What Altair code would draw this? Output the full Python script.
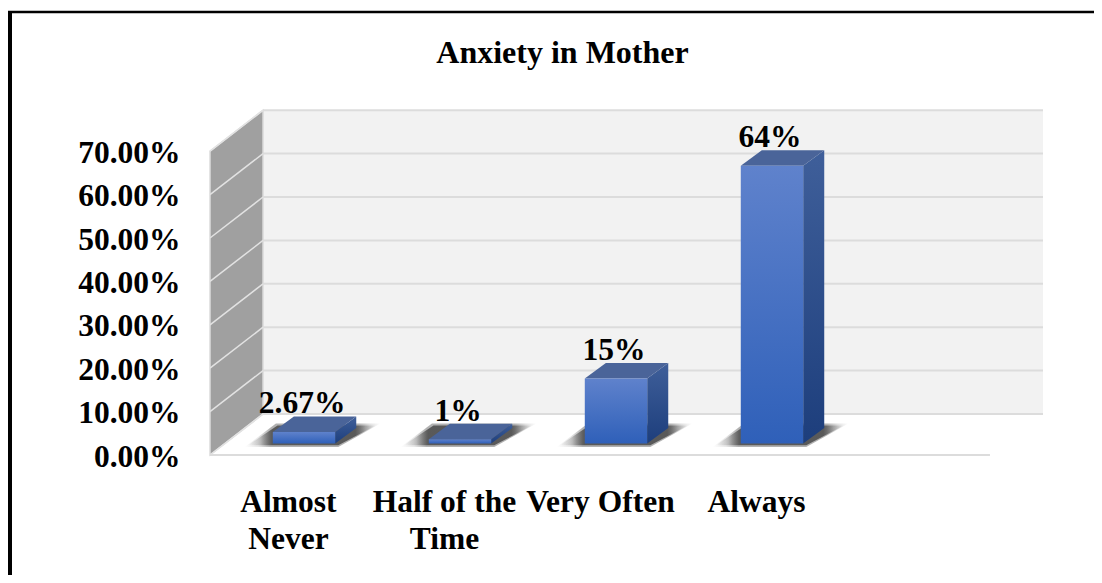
import json
import altair as alt
import pandas as pd

title = "Anxiety in Mother"
categories = ["Almost\nNever", "Half of the\nTime", "Very Often", "Always"]
values = [0.0267, 0.01, 0.15, 0.64]
value_labels = ["2.67%", "1%", "15%", "64%"]
y_ticks = [0.0, 0.1, 0.2, 0.3, 0.4, 0.5, 0.6, 0.7]

FONT = "Liberation Serif"
N_SLOTS = 5
WALL_DX, WALL_DY = 0.34, 0.0945
BAR_W, BAR_OFF_X, BAR_OFF_Y = 0.40, 0.1026, 0.0265
BAR_DX, BAR_DY = 0.135, 0.0357

x_s = alt.Scale(domain=[0, N_SLOTS + WALL_DX], nice=False, zero=False)
y_s = alt.Scale(domain=[0, 0.795], nice=False)
cat_expr = "split(" + json.dumps(categories) + "[floor(datum.value)], '\\n')"
x_axis = alt.Axis(
    values=[i + 0.5 for i in range(len(categories))],
    labelExpr=cat_expr, title=None, domain=False, ticks=False, grid=False,
    labelFont=FONT, labelFontWeight="bold", labelFontSize=31.5, labelColor="black",
    labelPadding=31, labelLineHeight=37, labelOverlap=False, labelBaseline="top",
    labelAlign="center", labelFlush=False,
)
y_axis = alt.Axis(
    values=y_ticks, format=".2%", title=None, domain=False, ticks=False, grid=False,
    labelFont=FONT, labelFontWeight="bold", labelFontSize=31.5, labelColor="black",
    labelPadding=30, labelOverlap=False, labelFlush=False, labelOffset=2,
)
X = lambda f: alt.X(f, type="quantitative", scale=x_s, axis=x_axis)
Y = lambda f: alt.Y(f, type="quantitative", scale=y_s, axis=y_axis)
X2 = lambda f: alt.X2(f)
Y2 = lambda f: alt.Y2(f)

bars = pd.DataFrame({"i": range(len(values)), "v": values, "label": value_labels})
bars["l"] = bars.i + 0.5 - BAR_W / 2 + BAR_OFF_X
bars["r"] = bars.l + BAR_W
bars["b"] = BAR_OFF_Y
bars["t"] = bars.v + BAR_OFF_Y

grid = pd.DataFrame({"v": y_ticks})
grid["back"] = grid.v + WALL_DY
grid["x0"] = WALL_DX
grid["x1"] = N_SLOTS + WALL_DX

back_panel = pd.DataFrame(
    {"x0": [WALL_DX], "x1": [N_SLOTS + WALL_DX], "yb": [WALL_DY], "yt": [y_ticks[-1] + WALL_DY]}
)

wall_lines = pd.DataFrame(
    [{"v": v, "x": 0, "y": v} for v in y_ticks]
    + [{"v": v, "x": WALL_DX, "y": v + WALL_DY} for v in y_ticks]
)
wall = pd.DataFrame(
    [
        {"x": 0, "y": 0, "y2": y_ticks[-1]},
        {"x": WALL_DX, "y": WALL_DY, "y2": y_ticks[-1] + WALL_DY},
    ]
)

side = pd.concat(
    [
        pd.DataFrame({"i": bars.i, "x": bars.r, "y": bars.b, "y2": bars.t}),
        pd.DataFrame({"i": bars.i, "x": bars.r + BAR_DX, "y": bars.b + BAR_DY, "y2": bars.t + BAR_DY}),
    ]
)


def slanted(i, xa, xb, xc, xd, ya, yb):
    """Parallelogram-like face: flat edge xa..xb at ya, flat edge xc..xd at yb."""
    return pd.DataFrame(
        {
            "i": i,
            "x": [xa, xc, xb, xd],
            "y": [ya, ya, ya, yb],
            "y2": [ya, yb, yb, yb],
        }
    )


top = pd.concat(
    [
        slanted(r.i, r.l, r.r, r.l + BAR_DX, r.r + BAR_DX, r.t, r.t + BAR_DY)
        for r in bars.itertuples()
    ]
)
shadow = pd.concat(
    [
        slanted(r.i, r.l - 0.16, r.r + 0.02, r.l + 0.03, r.r + 0.26, 0.0225, 0.068)
        for r in bars.itertuples()
    ]
)
shadow_soft = pd.concat(
    [
        slanted(r.i, r.l - 0.18, r.r + 0.02, r.l + 0.02, r.r + 0.29, 0.0185, 0.0725)
        for r in bars.itertuples()
    ]
)
labels = bars.assign(lx=bars.i + 0.5 + BAR_OFF_X - 0.012, ly=bars.t + BAR_DY)


def vgrad(c0, c1):
    return alt.LinearGradient(
        gradient="linear", x1=0, x2=0, y1=0, y2=1,
        stops=[alt.GradientStop(color=c0, offset=0), alt.GradientStop(color=c1, offset=1)],
    )


def shadow_grad(alpha):
    ramp = [(0, 0), (0.1, 0.3), (0.19, 1), (0.84, 1), (0.92, 0.4), (1, 0)]
    return alt.LinearGradient(
        gradient="linear", x1=0, x2=1, y1=0, y2=0,
        stops=[
            alt.GradientStop(color=f"rgba(60,60,60,{a * alpha:.3f})", offset=o)
            for o, a in ramp
        ],
    )


back_rect = (
    alt.Chart(back_panel).mark_rect(fill="#f2f2f2")
    .encode(x=X("x0"), x2=X2("x1"), y=Y("yb"), y2=Y2("yt"))
)
back_grid = alt.Chart(grid).mark_rule(color="#dcdcdc", strokeWidth=2).encode(x=X("x0"), x2=X2("x1"), y=Y("back"))
side_wall = alt.Chart(wall).mark_area(fill="#a0a0a0", stroke="#dcdcdc", strokeWidth=1.5).encode(x=X("x"), y=Y("y"), y2=Y2("y2"))
wall_grid = alt.Chart(wall_lines).mark_line(color="#e2e2e2", strokeWidth=1.5).encode(x=X("x"), y=Y("y"), detail="v:N")
floor = (
    alt.Chart(pd.DataFrame({"a": [0], "b": [N_SLOTS], "y": [0]}))
    .mark_rule(color="#dcdcdc", strokeWidth=2)
    .encode(x=X("a"), x2=X2("b"), y=Y("y"))
)
shadows_soft = (
    alt.Chart(shadow_soft).mark_area(fill=shadow_grad(0.4))
    .encode(x=X("x"), y=Y("y"), y2=Y2("y2"), detail="i:N")
)
shadows = (
    alt.Chart(shadow).mark_area(fill=shadow_grad(0.75))
    .encode(x=X("x"), y=Y("y"), y2=Y2("y2"), detail="i:N")
)
sides = (
    alt.Chart(side).mark_area(fill=vgrad("#3f5f9a", "#1d3e7c"))
    .encode(x=X("x"), y=Y("y"), y2=Y2("y2"), detail="i:N")
)
tops = (
    alt.Chart(top).mark_area(fill="#4a6499")
    .encode(x=X("x"), y=Y("y"), y2=Y2("y2"), detail="i:N")
)
fronts = (
    alt.Chart(bars).mark_rect(fill=vgrad("#5f82cc", "#2f60b9"))
    .encode(x=X("l"), x2=X2("r"), y=Y("b"), y2=Y2("t"))
)
texts = (
    alt.Chart(labels)
    .mark_text(font=FONT, fontWeight="bold", fontSize=31.5, color="black", baseline="alphabetic", dy=-3)
    .encode(x=X("lx"), y=Y("ly"), text="label:N")
)
border_left = (
    alt.Chart(pd.DataFrame({"a": [0]})).mark_rule(color="black", strokeWidth=4)
    .encode(x=alt.value(-200), y=alt.value(-99), y2=alt.value(465))
)
border_top = (
    alt.Chart(pd.DataFrame({"a": [0]})).mark_rule(color="black", strokeWidth=2.5)
    .encode(x=alt.value(-202), x2=alt.value(884), y=alt.value(-98))
)

chart = (
    alt.layer(
        back_rect, back_grid, side_wall, wall_grid, floor, shadows_soft, shadows,
        sides, tops, fronts, texts, border_left, border_top,
    )
    .properties(
        width=833, height=345,
        title=alt.TitleParams(
            title, font=FONT, fontWeight="bold", fontSize=32, color="black", offset=0, dx=-64, dy=61,
        ),
        autosize=alt.AutoSizeParams(type="none"),
        padding={"left": 202, "top": 102, "right": 51, "bottom": 120},
        background="white",
    )
    .configure_view(stroke=None)
)
chart.save("out.html", embed_options={"renderer": "svg", "actions": False})
